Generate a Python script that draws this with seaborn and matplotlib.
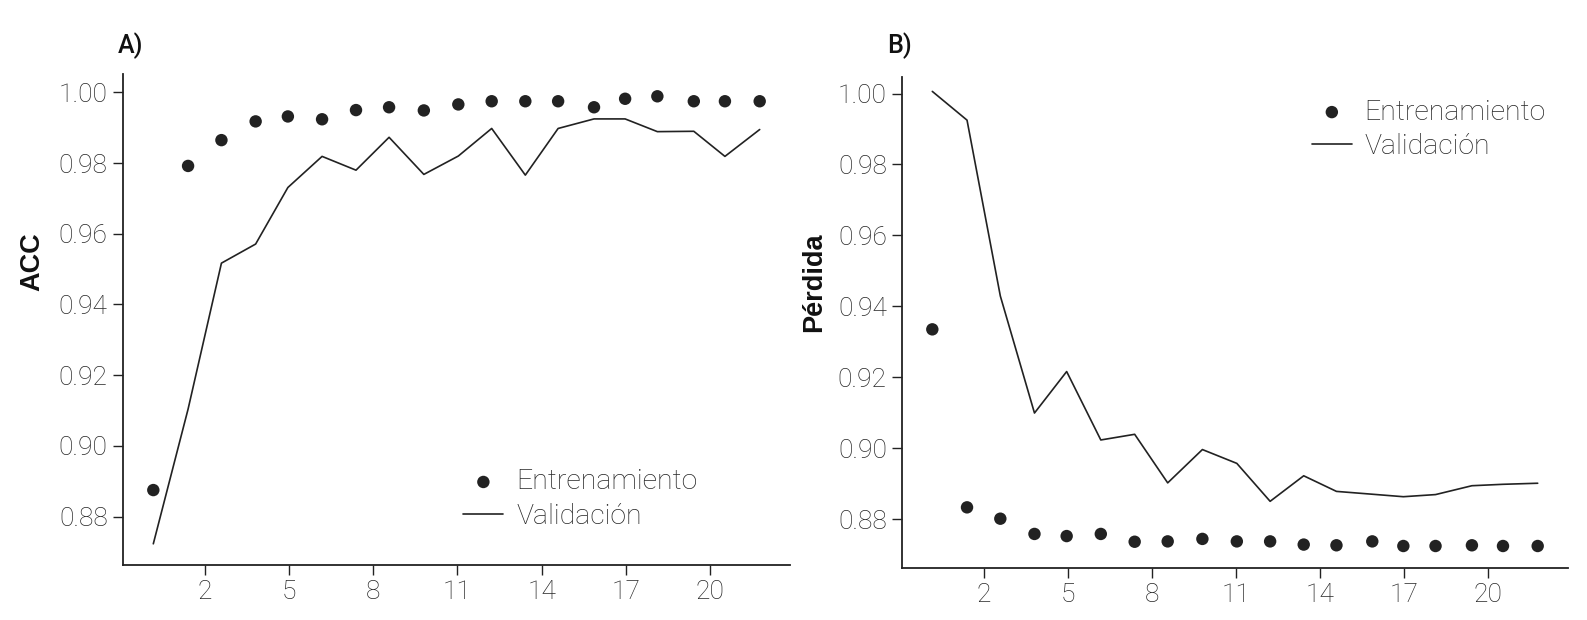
import pandas as pd
import matplotlib
matplotlib.use("Agg")
import matplotlib.pyplot as plt
import seaborn as sns

# epoch positions as drawn on the x axis
epocas = [0.15, 1.39, 2.58, 3.80, 4.95, 6.17, 7.38, 8.56, 9.80, 11.03,
          12.22, 13.42, 14.59, 15.87, 16.98, 18.13, 19.43, 20.54, 21.78]

acc_entrenamiento = [0.8875, 0.9792, 0.9865, 0.9918, 0.9932, 0.9924, 0.9950,
                     0.9958, 0.9949, 0.9966, 0.9975, 0.9975, 0.9975, 0.9958,
                     0.9982, 0.9989, 0.9975, 0.9975, 0.9975]
acc_validacion = [0.8723, 0.9104, 0.9517, 0.9571, 0.9731, 0.9819, 0.9780,
                  0.9873, 0.9768, 0.9820, 0.9898, 0.9766, 0.9898, 0.9925,
                  0.9925, 0.9889, 0.9890, 0.9819, 0.9895]

perdida_entrenamiento = [0.9335, 0.8833, 0.8801, 0.8758, 0.8752, 0.8758, 0.8736,
                         0.8737, 0.8744, 0.8737, 0.8737, 0.8728, 0.8726, 0.8737,
                         0.8724, 0.8724, 0.8726, 0.8724, 0.8724]
perdida_validacion = [1.0006, 0.9925, 0.9429, 0.9099, 0.9216, 0.9023, 0.9039,
                      0.8902, 0.8996, 0.8957, 0.8850, 0.8922, 0.8878, 0.8870,
                      0.8863, 0.8869, 0.8894, 0.8898, 0.8901]

xticks = [2, 5, 8, 11, 14, 17, 20]
yticks = [0.88, 0.90, 0.92, 0.94, 0.96, 0.98, 1.00]

df = pd.DataFrame({
    "epoca": epocas,
    "acc_tr": acc_entrenamiento,
    "acc_val": acc_validacion,
    "loss_tr": perdida_entrenamiento,
    "loss_val": perdida_validacion,
})

sns.set_style("ticks")
plt.rcParams["font.family"] = ["Roboto", "DejaVu Sans"]
plt.rcParams["font.weight"] = "light"

ink = "#222222"
txt = "#262626"

fig = plt.figure(figsize=(15.87, 6.2), dpi=100)
ax1 = fig.add_axes([0.0775, 0.0887, 0.4203, 0.7919])
ax2 = fig.add_axes([0.5684, 0.0839, 0.4196, 0.7921])


def draw(ax, ytr, yval, ylabel, label_xy, ylim, leg_loc, leg_anchor):
    sns.scatterplot(data=df, x="epoca", y=ytr, ax=ax, s=80, color=ink,
                    edgecolor="none", label="Entrenamiento")
    sns.lineplot(data=df, x="epoca", y=yval, ax=ax, color=ink, linewidth=1.2,
                 label="Validación")
    sns.despine(ax=ax)
    ax.set_xticks(xticks)
    ax.set_yticks(yticks)
    ax.set_yticklabels([f"{v:.2f}" for v in yticks])
    ax.set_ylim(*ylim)
    ax.set_xlabel("")
    ax.set_ylabel(ylabel, fontsize=19.5, fontweight="bold",
                  family=["Liberation Sans", "DejaVu Sans"], color="#111111")
    ax.yaxis.set_label_coords(*label_xy)
    ax.tick_params(axis="both", labelsize=19, colors=txt, length=7, width=1,
                   pad=4)
    ax.tick_params(axis="both", color=ink)
    for sp in ("left", "bottom"):
        ax.spines[sp].set_color(ink)
        ax.spines[sp].set_linewidth(1.3)
    leg = ax.legend(loc=leg_loc, bbox_to_anchor=leg_anchor, frameon=False,
                    fontsize=20.5, handlelength=1.4, handletextpad=0.45,
                    labelspacing=0.25)
    for t in leg.get_texts():
        t.set_color(txt)


draw(ax1, "acc_tr", "acc_val", "ACC", (-0.116, 0.617), (0.8663, 1.0052),
     "lower left", (0.472, 0.02))
draw(ax2, "loss_tr", "loss_val", "Pérdida", (-0.113, 0.582), (0.8662, 1.0047),
     "upper left", (0.577, 1.008))

fig.text(0.0744, 0.926, "A)", fontsize=18, fontweight="medium",
         color="#111111", va="center", ha="left")
fig.text(0.559, 0.926, "B)", fontsize=18, fontweight="medium",
         color="#111111", va="center", ha="left")

fig.savefig("out.png", dpi=100)
